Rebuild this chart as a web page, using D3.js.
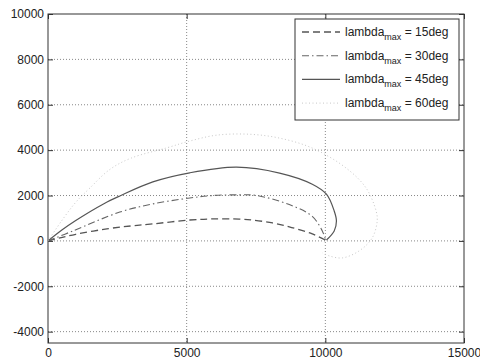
<!DOCTYPE html>
<html>
<head>
<meta charset="utf-8">
<script src="https://cdn.jsdelivr.net/npm/d3@7"></script>
<style>
  body { margin: 0; background: #fff; }
  text { font-family: "Liberation Sans", Arial, sans-serif; fill: #222; }
</style>
</head>
<body>
<div class="chart"></div>
<script>
document.addEventListener('DOMContentLoaded', () => {

// tick values
const xTicks = [0, 5000, 10000, 15000]
const yTicks = [-4000, -2000, 0, 2000, 4000, 6000, 8000, 10000]

// series
const x15 = [0, 430, 1000, 2120, 3000, 3780, 5110, 5940, 6900, 7370, 8100, 8700, 9320, 9530, 9960, 10000]
const y15 = [0, 130, 290, 530, 660, 750, 920, 970, 960, 920, 790, 620, 400, 310, 60, 30]

const x30 = [0, 900, 2590, 3780, 5110, 5940, 6900, 7520, 8700, 9530, 9890, 10000]
const y30 = [0, 440, 1270, 1630, 1890, 2000, 2030, 2000, 1600, 1080, 440, 80]

const x45 = [0, 500, 1000, 2000, 2590, 3780, 5110, 6800, 8350, 9530, 10040, 10320, 10400, 10320, 10040]
const y45 = [0, 480, 900, 1630, 1980, 2600, 3000, 3250, 2990, 2500, 2060, 1320, 880, 440, 40]

const x60 = [0, 500, 1000, 1510, 2230, 3000, 4280, 5110, 6080, 7270, 8350, 9530, 10750, 11470, 11830, 11870, 11690, 11220, 10610, 10140, 9900]
const y60 = [0, 900, 1700, 2330, 3150, 3650, 4100, 4400, 4660, 4700, 4530, 4090, 3210, 2330, 1320, 880, 130, -440, -750, -660, -530]

const labels = ['15deg', '30deg', '45deg', '60deg']

let w = 480,
    h = 359

const left = 48, right = 464, top = 14, bottom = 343

const x = d3.scaleLinear().domain([0, 15000]).range([left, right])
const y = d3.scaleLinear().domain([-4500, 10000]).range([bottom, top])

// plain hyphen for negatives, like the original
const fmt = d => String(d)

const svg = d3.select('.chart')
              .append('svg')
              .attr('width', w)
              .attr('height', h)

// grid
svg.append('g')
   .selectAll('line')
   .data(xTicks.slice(1, -1))
   .enter()
   .append('line')
   .attr('x1', d => x(d)).attr('x2', d => x(d))
   .attr('y1', top).attr('y2', bottom)
   .attr('stroke', '#888')
   .attr('stroke-dasharray', '1,2')

svg.append('g')
   .selectAll('line')
   .data(yTicks.filter(d => d < 10000))
   .enter()
   .append('line')
   .attr('x1', left).attr('x2', right)
   .attr('y1', d => y(d)).attr('y2', d => y(d))
   .attr('stroke', '#888')
   .attr('stroke-dasharray', '1,2')

// axes, ticks inside like matlab
const xAxis = svg.append('g')
                 .attr('transform', `translate(0,${bottom})`)
                 .call(d3.axisBottom(x).tickValues(xTicks).tickSizeInner(-5).tickSizeOuter(0).tickPadding(5).tickFormat(fmt))
const xAxisTop = svg.append('g')
                 .attr('transform', `translate(0,${top})`)
                 .call(d3.axisTop(x).tickValues(xTicks).tickSizeInner(-5).tickSizeOuter(0).tickFormat(''))
const yAxis = svg.append('g')
                 .attr('transform', `translate(${left},0)`)
                 .call(d3.axisLeft(y).tickValues(yTicks).tickSizeInner(-5).tickSizeOuter(0).tickPadding(4).tickFormat(fmt))
const yAxisRight = svg.append('g')
                 .attr('transform', `translate(${right},0)`)
                 .call(d3.axisRight(y).tickValues(yTicks).tickSizeInner(-5).tickSizeOuter(0).tickFormat(''))

;[xAxis, xAxisTop, yAxis, yAxisRight].forEach(a => {
  a.select('.domain').remove()
  a.selectAll('line').attr('stroke', '#333')
  a.selectAll('text').style('font-size', '12px').attr('fill', '#222')
})

svg.append('rect')
   .attr('x', left).attr('y', top)
   .attr('width', right - left).attr('height', bottom - top)
   .attr('fill', 'none')
   .attr('stroke', '#333')

// curves
const styles = [
  { stroke: '#555', dash: '7,4', width: 1.3 },
  { stroke: '#666', dash: '7,3,1.5,3', width: 1.1 },
  { stroke: '#555', dash: null, width: 1.2 },
  { stroke: '#c8c8c8', dash: '1,2.5', width: 1 }
]

const series = [[x15, y15], [x30, y30], [x45, y45], [x60, y60]]

const line = d3.line()
               .x(d => x(d[0]))
               .y(d => y(d[1]))
               .curve(d3.curveCatmullRom)

series.forEach((s, i) => {
  let pts = s[0].map((v, j) => [v, s[1][j]])
  svg.append('path')
     .datum(pts)
     .attr('d', line)
     .attr('fill', 'none')
     .attr('stroke', styles[i].stroke)
     .attr('stroke-width', styles[i].width)
     .attr('stroke-dasharray', styles[i].dash)
})

// legend
let legend = svg.append('g').attr('id', 'legend')

legend.append('rect')
      .attr('x', 295).attr('y', 19)
      .attr('width', 164).attr('height', 101)
      .attr('fill', '#fff')
      .attr('stroke', '#333')

labels.forEach((lab, i) => {
  let ly = 32 + i * 23.7
  legend.append('line')
        .attr('x1', 302).attr('x2', 340)
        .attr('y1', ly).attr('y2', ly)
        .attr('stroke', styles[i].stroke)
        .attr('stroke-width', styles[i].width)
        .attr('stroke-dasharray', styles[i].dash)
  let t = legend.append('text')
                .attr('x', 345).attr('y', ly + 4)
                .style('font-size', '12px')
  t.append('tspan').text('lambda')
  t.append('tspan').attr('dy', 4).style('font-size', '9px').text('max')
  t.append('tspan').attr('dy', -4).text(' = ' + lab)
})

})
</script>
</body>
</html>
